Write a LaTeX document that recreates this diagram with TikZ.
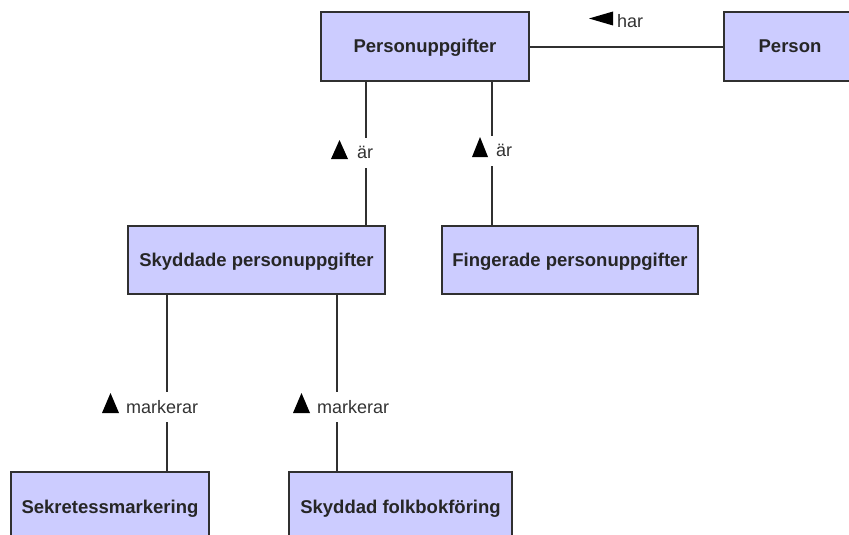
\documentclass[tikz,border=0pt]{standalone}
\usepackage{fontspec}
\setmainfont{Liberation Sans}
\usetikzlibrary{calc}

\definecolor{boxfill}{RGB}{204,204,255}
\definecolor{edge}{RGB}{48,48,48}

\tikzset{
  entity/.style={draw=edge, line width=1.5pt, fill=boxfill, inner sep=0pt,
    font=\fontsize{18.5}{20}\selectfont\bfseries, text=black!85,
    text height=13pt, text depth=0pt},
  link/.style={draw=edge, line width=1.5pt},
  role/.style={fill=white, inner xsep=1pt, inner ysep=0pt,
    font=\fontsize{18}{20}\selectfont, text=black!80,
    text height=21pt, text depth=9pt, anchor=base west},
  tri/.style={fill=black}
}

\begin{document}
\begin{tikzpicture}[x=1pt, y=-1pt]
  \useasboundingbox (0,0) rectangle (849,535);
  \clip (0,0) rectangle (849,535);

  % entities
  \node[entity, minimum width=208pt, minimum height=69pt] (pu) at (425,46.5) {Personuppgifter};
  \node[entity, minimum width=132pt, minimum height=69pt] (person) at (790,46.5) {Person};
  \node[entity, minimum width=257pt, minimum height=68pt] (sky) at (256.5,260) {Skyddade personuppgifter};
  \node[entity, minimum width=256pt, minimum height=68pt] (fing) at (570,260) {Fingerade personuppgifter};
  \node[entity, minimum width=198pt, minimum height=69pt] (sekr) at (110,506.5) {Sekretessmarkering};
  \node[entity, minimum width=223pt, minimum height=69pt] (folk) at (400.5,506.5) {Skyddad folkbokföring};

  % associations
  \draw[link] ([yshift=-0.5pt]pu.east) -- ([yshift=-0.5pt]person.west);
  \draw[link] ([xshift=-59pt]pu.south) -- ([xshift=-59pt]pu.south |- sky.north);
  \draw[link] ([xshift=67pt]pu.south) -- ([xshift=67pt]pu.south |- fing.north);
  \draw[link] ([xshift=-89.5pt]sky.south) -- ([xshift=-89.5pt]sky.south |- sekr.north);
  \draw[link] ([xshift=80.5pt]sky.south) -- ([xshift=80.5pt]sky.south |- folk.north);

  % role names, each with its reading-direction triangle
  \node[role] (r1) at (330,158.5) {\hspace{26pt}är};
  \fill[tri] ($(r1.base west)+(1,0.5)$) -- ++(17,0) -- ++(-8.5,-19) -- cycle;

  \node[role] (r2) at (471,156.5) {\hspace{24pt}är};
  \fill[tri] ($(r2.base west)+(1,0.5)$) -- ++(16,0) -- ++(-8,-20) -- cycle;

  \node[role] (r3) at (101,413) {\hspace{24pt}markerar};
  \fill[tri] ($(r3.base west)+(1,0)$) -- ++(17,0) -- ++(-8.5,-20) -- cycle;

  \node[role] (r4) at (292,413) {\hspace{24pt}markerar};
  \fill[tri] ($(r4.base west)+(1,0)$) -- ++(17,0) -- ++(-8.5,-20) -- cycle;

  \node[role, fill=none] (r5) at (588,28) {\hspace{28pt}har};
  \fill[tri] ($(r5.base west)+(1,-9.5)$) -- ++(24,-7) -- ++(0,14) -- cycle;
\end{tikzpicture}
\end{document}
